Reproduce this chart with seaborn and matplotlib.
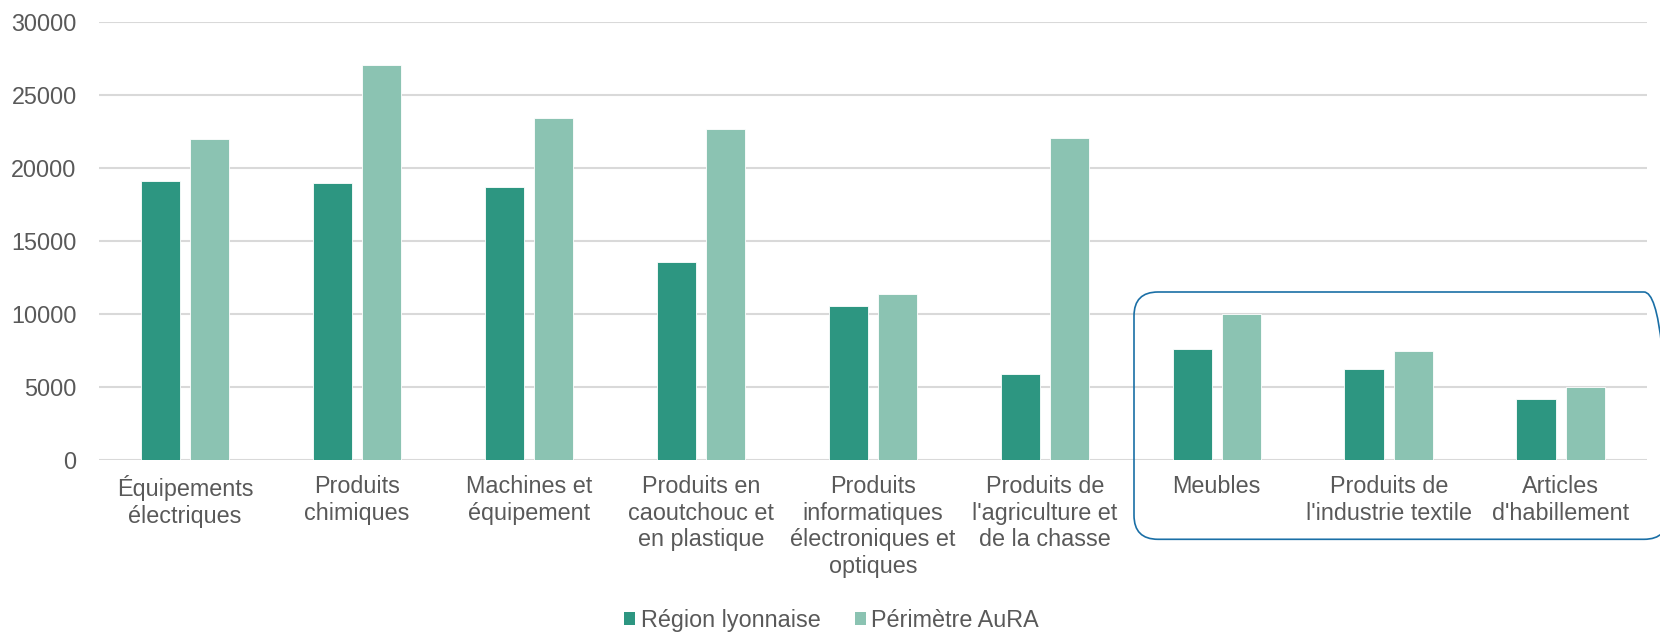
import matplotlib
matplotlib.use("Agg")
import matplotlib.pyplot as plt
from matplotlib.patches import FancyBboxPatch, Patch
import seaborn as sns
import pandas as pd

categories = [
    "Équipements\nélectriques",
    "Produits\nchimiques",
    "Machines et\néquipement",
    "Produits en\ncaoutchouc et\nen plastique",
    "Produits\ninformatiques\nélectroniques et\noptiques",
    "Produits de\nl'agriculture et\nde la chasse",
    "Meubles",
    "Produits de\nl'industrie textile",
    "Articles\nd'habillement",
]
series_names = ["Région lyonnaise", "Périmètre AuRA"]
region_lyonnaise = [19100, 18950, 18700, 13550, 10500, 5900, 7550, 6200, 4150]
perimetre_aura = [21950, 27000, 23400, 22650, 11350, 22000, 9950, 7450, 5000]
y_ticks = [0, 5000, 10000, 15000, 20000, 25000, 30000]

colors = ["#2D9681", "#8BC3B2"]
text_color = "#595959"
grid_color = "#D9D9D9"

df = pd.DataFrame({
    "cat": categories * 2,
    "serie": [series_names[0]] * len(categories) + [series_names[1]] * len(categories),
    "val": region_lyonnaise + perimetre_aura,
})

sns.set_theme(style="white")
plt.rcParams["font.family"] = ["Liberation Sans", "DejaVu Sans"]

fig = plt.figure(figsize=(16.6, 6.32), dpi=100)
ax = fig.add_axes([0.0596, 0.2726, 0.9324, 0.6931])

sns.barplot(data=df, x="cat", y="val", hue="serie", order=categories,
            hue_order=series_names, palette=colors, width=0.572, gap=0.2,
            edgecolor="white", linewidth=0.6, saturation=1, ax=ax, legend=False,
            zorder=3)

ax.set_ylim(0, 30000)
ax.set_yticks(y_ticks)
ax.set_yticklabels([str(v) for v in y_ticks])
ax.set_xlim(-0.5, len(categories) - 0.5)
ax.yaxis.grid(True, color=grid_color, linewidth=1.5, zorder=0)
ax.set_axisbelow(True)
for s in ax.spines.values():
    s.set_visible(False)
ax.tick_params(axis="y", length=0, pad=16, labelsize=16.8, labelcolor=text_color)
ax.tick_params(axis="x", length=0, pad=11, labelsize=16.8, labelcolor=text_color)
for lab in ax.get_xticklabels():
    lab.set_linespacing(1.2)
ax.set_xlabel("")
ax.set_ylabel("")

handles = [Patch(facecolor=c, edgecolor="none") for c in colors]
fig.legend(handles, series_names, loc="center", bbox_to_anchor=(0.501, 0.018),
           ncol=2, frameon=False, fontsize=16.8, labelcolor=text_color,
           handlelength=0.47, handleheight=0.47, handletextpad=0.25,
           columnspacing=1.45, borderaxespad=0, borderpad=0)

box = FancyBboxPatch((11.34, 0.927), 16.68 - 11.34, 3.40 - 0.927,
                     boxstyle="round,pad=0,rounding_size=0.24",
                     transform=fig.dpi_scale_trans, facecolor="none",
                     edgecolor="#1A6FA6", linewidth=1.2, zorder=10)
fig.patches.append(box)

fig.savefig("out.png", dpi=100)
